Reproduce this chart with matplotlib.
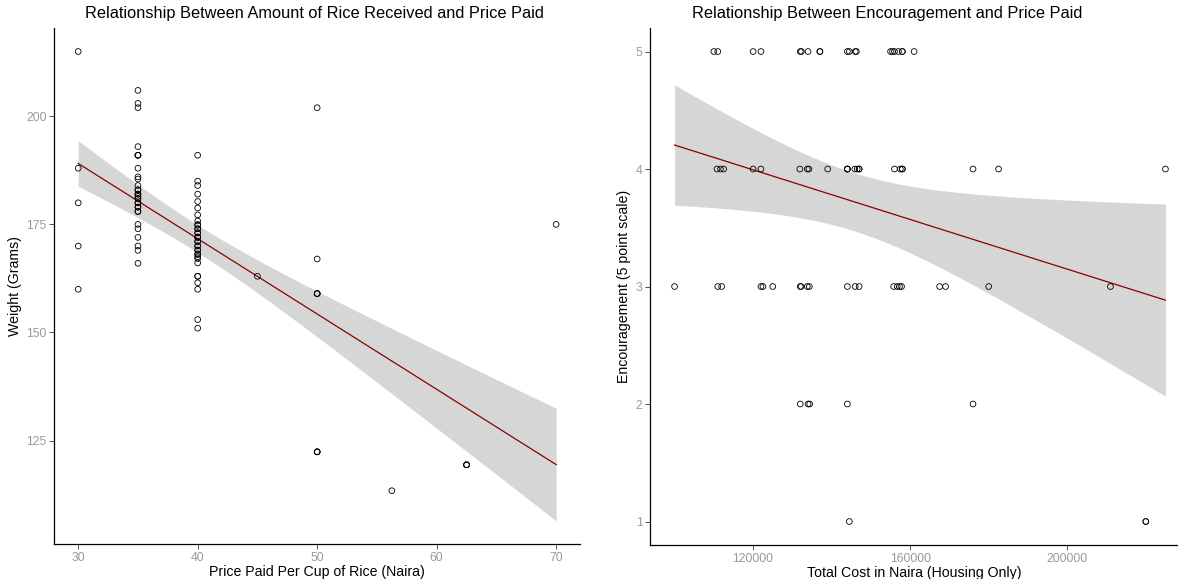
import matplotlib
matplotlib.use("Agg")
import matplotlib.pyplot as plt
import numpy as np

plt.rcParams['font.family'] = ['Liberation Sans', 'DejaVu Sans']

# left panel: price paid per cup vs. weight received
price = ([30] * 5 + [35] * 30 + [40] * 34 + [45] + [50] * 8 + [56.25] + [62.5] * 3 + [70])
weight = [215, 188, 180, 170, 160,
          206, 203, 202, 193, 191, 191, 191, 188, 186, 185.5, 184, 183, 182, 181.5,
          181, 180, 179, 178, 175, 174, 172, 170, 169, 166,
          180, 181, 182, 179, 183, 178,
          191, 185, 184, 182, 180.3, 178.8, 177.2, 175.8, 174.8, 174, 173.1, 172.1,
          171.1, 170.1, 169.1, 168.2, 167.1, 166.1, 163, 163, 161.5, 160, 153, 151, 167.5,
          170, 171, 172, 173, 174, 175, 169, 168, 172,
          163,
          202, 167, 159, 159, 159, 122.4, 122.4, 122.4,
          113.4,
          119.4, 119.4, 119.4,
          175]

# right panel: total housing cost vs. encouragement score
cost = [110000, 111000, 120000, 122000, 132000, 132300, 134000, 137000, 137000,
        144000, 144500, 146000, 146300, 155000, 155500, 156000, 157000, 158000, 158000, 161000,
        110800, 111700, 112500, 120000, 122000, 131900, 133800, 134200, 139000,
        144000, 144000, 144000, 145900, 146500, 147000, 147000, 156000, 157500, 158000, 158000,
        176000, 182500, 225000,
        100000, 111000, 112000, 122000, 122500, 125000, 132000, 132200, 133800,
        134300, 144000, 146000, 147000, 155800, 156700, 157300, 157800,
        167500, 169000, 180000, 211000,
        132000, 134000, 134400, 144000, 176000,
        144500, 220000, 220000]
encourage = ([5] * 20 + [4] * 23 + [3] * 21 + [2] * 5 + [1] * 3)

titles = ["Relationship Between Amount of Rice Received and Price Paid",
          "Relationship Between Encouragement and Price Paid"]
xlabels = ["Price Paid Per Cup of Rice (Naira)", "Total Cost in Naira (Housing Only)"]
ylabels = ["Weight (Grams)", "Encouragement (5 point scale)"]


def lm_band(x, y, n_grid=80):
    x = np.asarray(x, float)
    y = np.asarray(y, float)
    n = len(x)
    b, a = np.polyfit(x, y, 1)
    resid = y - (a + b * x)
    s = np.sqrt(np.sum(resid ** 2) / (n - 2))
    sxx = np.sum((x - x.mean()) ** 2)
    gx = np.linspace(x.min(), x.max(), n_grid)
    fit = a + b * gx
    se = s * np.sqrt(1 / n + (gx - x.mean()) ** 2 / sxx)
    df = n - 2
    z = 1.959964
    t = z + (z ** 3 + z) / (4 * df) + (5 * z ** 5 + 16 * z ** 3 + 3 * z) / (96 * df ** 2)
    return gx, fit, fit - t * se, fit + t * se


def draw_panel(ax, x, y, title_x, title, xlabel, ylabel):
    gx, fit, lo, hi = lm_band(x, y)
    ax.fill_between(gx, lo, hi, color='#d6d6d6', lw=0, zorder=1)
    ax.plot(gx, fit, color='#8b0000', lw=0.9, zorder=2)
    ax.scatter(x, y, s=17, facecolors='none', edgecolors='black', linewidths=0.6, zorder=3)

    ymin = min(min(y), lo.min())
    ymax = max(max(y), hi.max())
    pad = (ymax - ymin) * 0.05
    ax.set_ylim(ymin - pad, ymax + pad)

    for side in ['top', 'right']:
        ax.spines[side].set_visible(False)
    for side in ['left', 'bottom']:
        ax.spines[side].set_color('black')
        ax.spines[side].set_linewidth(0.9)
    ax.tick_params(colors='#333333', labelcolor='#999999', labelsize=8.8, length=3.5, width=0.6, pad=2)
    ax.set_xlabel(xlabel, fontsize=10.2, color='black', labelpad=1)
    ax.set_ylabel(ylabel, fontsize=10.2, color='black', labelpad=3)
    ax.figure.text(title_x, 0.976, title, ha='center', va='center', fontsize=11.75)


fig = plt.figure(figsize=(11.78, 5.79), dpi=100)
ax1 = fig.add_axes([0.0461, 0.0599, 0.4463, 0.8917])
ax2 = fig.add_axes([0.5518, 0.0587, 0.4482, 0.8929])

draw_panel(ax1, price, weight, 314 / 1178, titles[0], xlabels[0], ylabels[0])
ax1.set_xlim(28, 72)
ax1.set_xticks([30, 40, 50, 60, 70])
ax1.set_yticks([125, 150, 175, 200])

draw_panel(ax2, cost, encourage, 887 / 1178, titles[1], xlabels[1], ylabels[1])
ax2.set_xlim(93750, 228200)
ax2.set_xticks([120000, 160000, 200000])
ax2.set_xticklabels(['120000', '160000', '200000'])
ax2.set_yticks([1, 2, 3, 4, 5])

fig.savefig('out.png', dpi=100)
